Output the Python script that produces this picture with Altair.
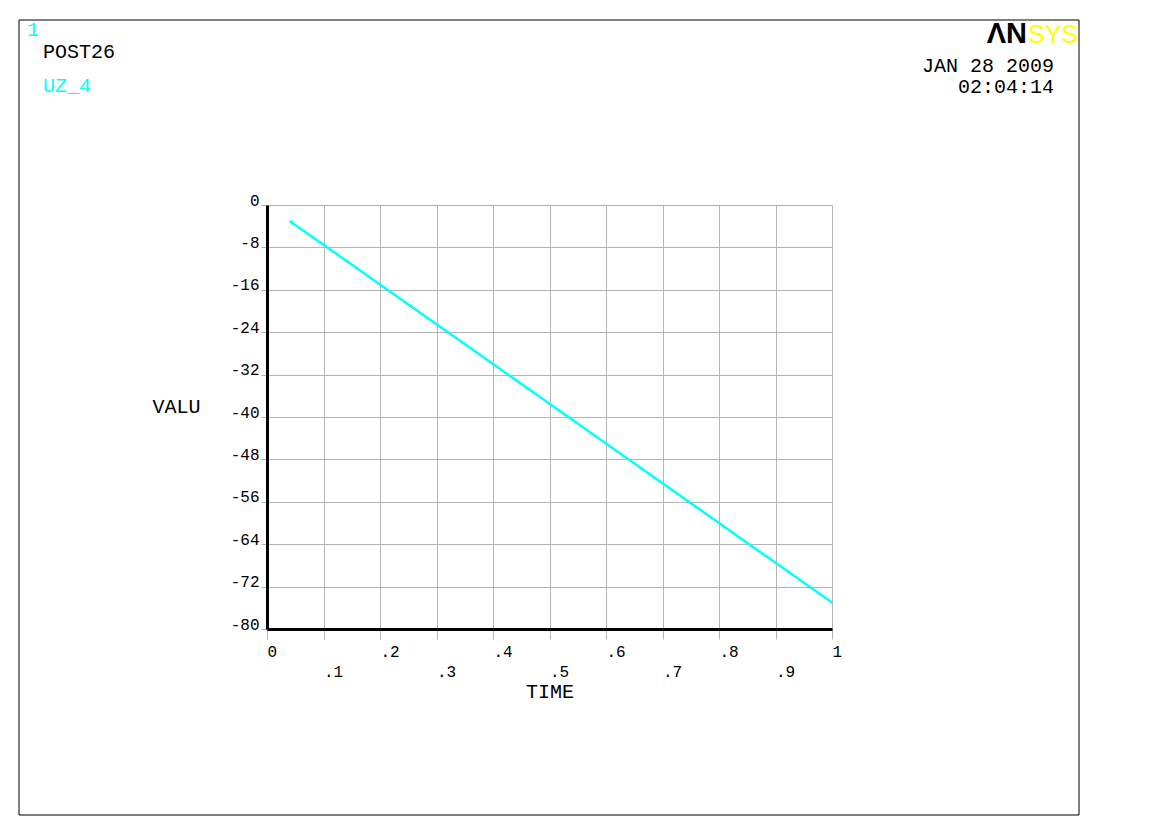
import altair as alt
import pandas as pd

# ---- data ----
time_vals = [0.04, 0.2, 0.4, 0.6, 0.8, 1.0]
uz_vals = [-3, -15, -30, -45, -60, -75]
x_ticks = [0, 0.1, 0.2, 0.3, 0.4, 0.5, 0.6, 0.7, 0.8, 0.9, 1.0]
y_ticks = [0, -8, -16, -24, -32, -40, -48, -56, -64, -72, -80]

header_left = ["1", "POST26", "UZ_4"]
header_right = ["JAN 28 2009", "02:04:14"]
logo = ["\u039bN", "SYS"]

MONO = "Liberation Mono"
CYAN = "#00ffff"
GRID = "#b4b4b4"

df = pd.DataFrame({"TIME": time_vals, "VALU": uz_vals})

x_label_expr = (
    "(datum.value == 0 ? '0' : datum.value == 1 ? '1' : '.' + round(datum.value*10))"
)
x_label_expr = (
    "round(datum.value*10) % 2 == 1 ? ['', " + x_label_expr + "] : " + x_label_expr
)

line = alt.Chart(df).mark_line(color=CYAN, strokeWidth=2.5).encode(
    x=alt.X(
        "TIME:Q",
        scale=alt.Scale(domain=[0, 1], nice=False, zero=False),
        axis=alt.Axis(
            title="TIME",
            values=x_ticks,
            labelExpr=x_label_expr,
            labelFont=MONO,
            labelFontSize=16,
            labelColor="black",
            labelAlign="left",
            labelBaseline="top",
            labelLineHeight=20,
            labelPadding=4,
            labelOverlap=False,
            labelFlush=False,
            tickSize=10,
            tickColor=GRID,
            tickWidth=1,
            grid=True,
            gridColor=GRID,
            gridOpacity=1,
            gridWidth=1,
            domainColor="black",
            domainWidth=3,
            titleFont=MONO,
            titleFontSize=20,
            titleFontWeight="normal",
            titleColor="black",
            titleBaseline="alphabetic",
            titleY=68,
        ),
    ),
    y=alt.Y(
        "VALU:Q",
        scale=alt.Scale(domain=[-80, 0], nice=False, zero=False),
        axis=alt.Axis(
            title="VALU",
            values=y_ticks,
            labelExpr="'' + datum.value",
            labelFont=MONO,
            labelFontSize=16,
            labelColor="black",
            labelAlign="right",
            labelBaseline="alphabetic",
            labelPadding=2,
            labelOverlap=False,
            labelFlush=False,
            tickSize=6,
            tickColor=GRID,
            tickWidth=1,
            grid=True,
            gridColor=GRID,
            gridOpacity=1,
            gridWidth=1,
            domainColor="black",
            domainWidth=3,
            titleFont=MONO,
            titleFontSize=20,
            titleFontWeight="normal",
            titleColor="black",
            titleAngle=0,
            titleAlign="left",
            titleBaseline="alphabetic",
            titleX=-115,
            titleY=207,
        ),
    ),
)

one = alt.Data(values=[{"k": 0}])


def label(text, x, y, color="black", align="left", size=20, font=MONO, weight="normal"):
    return alt.Chart(one).mark_text(
        align=align, baseline="alphabetic", font=font, fontSize=size,
        fontWeight=weight, color=color,
    ).encode(text=alt.value(text), x=alt.value(x), y=alt.value(y))


frame = alt.Chart(one).mark_rect(filled=False, stroke="black", strokeWidth=1).encode(
    x=alt.value(-248), x2=alt.value(812), y=alt.value(-185), y2=alt.value(610)
)

texts = [
    label(header_left[0], -240, -169, color=CYAN),
    label(header_left[1], -224, -147),
    label(header_left[2], -224, -113, color=CYAN),
    label(header_right[0], 787, -133, align="right"),
    label(header_right[1], 787, -112, align="right"),
    label(logo[0], 760, -162, align="right", size=29, font="Liberation Sans", weight="bold"),
    label(logo[1], 761, -162, color="#ffff00", size=25, font="Liberation Sans"),
]

chart = alt.layer(frame, line, *texts).properties(
    width=565,
    height=424,
    autosize=alt.AutoSizeParams(type="none"),
    padding={"left": 259, "top": 197, "right": 320, "bottom": 190},
    background="white",
).configure_view(stroke=None)

chart.save("out.html", embed_options={"renderer": "svg", "actions": False})
